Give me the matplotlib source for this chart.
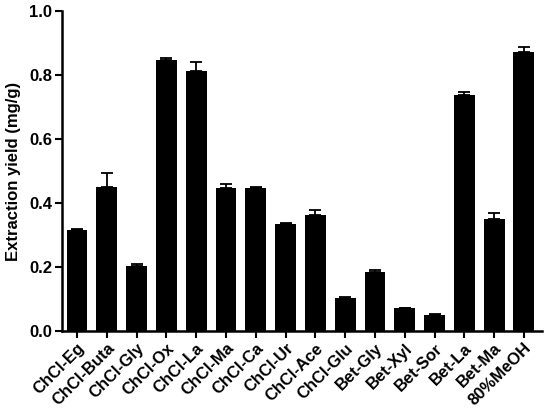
import matplotlib
matplotlib.use("Agg")
import matplotlib.pyplot as plt

categories = ["ChCl-Eg", "ChCl-Buta", "ChCl-Gly", "ChCl-Ox", "ChCl-La", "ChCl-Ma",
              "ChCl-Ca", "ChCl-Ur", "ChCl-Ace", "ChCl-Glu", "Bet-Gly", "Bet-Xyl",
              "Bet-Sor", "Bet-La", "Bet-Ma", "80%MeOH"]
values = [0.315, 0.451, 0.204, 0.846, 0.813, 0.446, 0.448, 0.335, 0.362, 0.104,
          0.184, 0.070, 0.051, 0.739, 0.350, 0.873]
errors = [0.004, 0.044, 0.004, 0.008, 0.028, 0.013, 0.003, 0.002, 0.015, 0.002,
          0.005, 0.002, 0.002, 0.008, 0.018, 0.014]
yticks = [0.0, 0.2, 0.4, 0.6, 0.8, 1.0]

plt.rcParams['font.family'] = ['Liberation Sans', 'DejaVu Sans']
plt.rcParams['font.weight'] = 'bold'

fig = plt.figure(figsize=(5.5, 4.11), dpi=100)
ax = fig.add_axes([0.113, 0.195, 0.872, 0.778])
x = list(range(len(categories)))
ax.bar(x, values, width=0.7, color='black', zorder=2)
ax.errorbar(x, values, yerr=[[0]*len(errors), errors], fmt='none', ecolor='black',
            elinewidth=1.3, capsize=4, capthick=1.3, zorder=1)

ax.set_xlim(-0.5, 15.6)
ax.set_ylim(0, 1.0)
ax.set_yticks(yticks)
ax.set_yticklabels([f"{t:.1f}" for t in yticks], fontsize=12, fontweight='bold')
ax.set_xticks(x)
ax.set_xticklabels(categories, rotation=45, ha='right', rotation_mode='anchor',
                   fontsize=12, fontweight='bold')
ax.set_ylabel("Extraction yield (mg/g)", fontsize=12, fontweight='bold', labelpad=6)
for s in ['top', 'right']:
    ax.spines[s].set_visible(False)
for s in ['left', 'bottom']:
    ax.spines[s].set_linewidth(1.8)
ax.tick_params(axis='both', width=1.5, length=5, direction='out', pad=2)
fig.savefig("out.png", dpi=100)
